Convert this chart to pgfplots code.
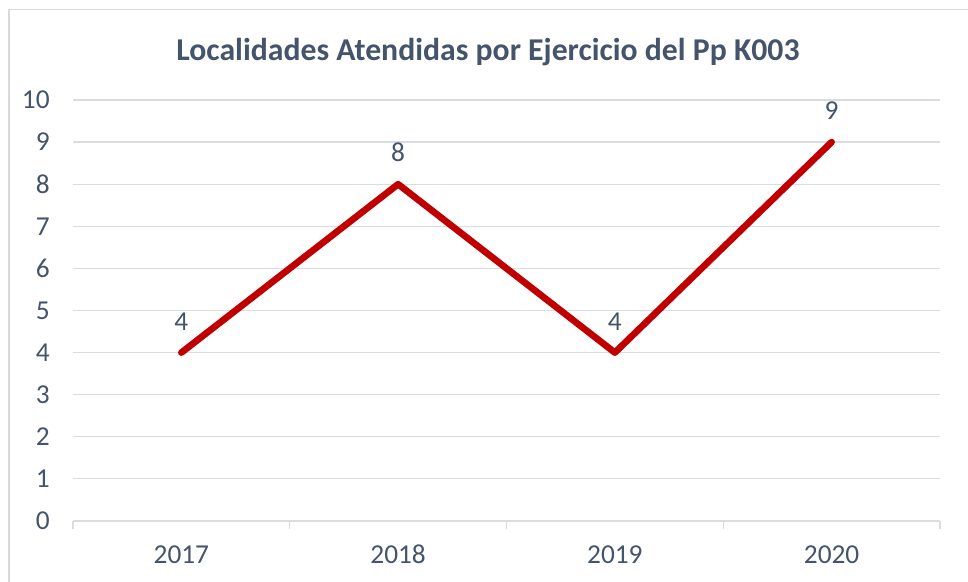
\documentclass[border=0pt]{standalone}
\usepackage{pgfplots}
\pgfplotsset{compat=1.18}
\usepackage{fontspec}
\setmainfont{Carlito}
\definecolor{cLine}{HTML}{C00000}
\definecolor{cText}{HTML}{44546A}
\definecolor{cGrid}{HTML}{D9DCE1}
\definecolor{cBorder}{HTML}{D9D9D9}
\begin{document}
\begin{tikzpicture}
% canvas 968x582 px at 0.75pt/px
\useasboundingbox (0pt,0pt) rectangle (726pt,436.5pt);
\draw[cBorder, line width=0.9pt] (6.8pt,-2pt) -- (6.8pt,429.5pt) -- (730pt,429.5pt);
\node[font=\fontsize{23.8}{27}\selectfont\bfseries, text=cText] at (366pt,397.5pt)
  {Localidades Atendidas por Ejercicio del Pp K003};
\begin{axis}[
  at={(54.75pt,45.75pt)}, anchor=south west,
  scale only axis, width=650.25pt, height=315.75pt,
  xmin=-0.5, xmax=3.5, ymin=0, ymax=10,
  xtick={0,1,2,3}, xticklabels={2017,2018,2019,2020},
  extra x ticks={-0.5,0.5,1.5,2.5,3.5}, extra x tick labels={},
  extra x tick style={major tick length=6pt, tick style={draw=cGrid, line width=0.9pt}, tick align=outside, grid=none},
  ytick={0,1,...,10},
  axis x line*=bottom, axis y line*=left,
  x axis line style={draw=cGrid, line width=0.9pt, -},
  y axis line style={draw=none},
  ymajorgrids, grid style={draw=cGrid, line width=0.9pt},
  major tick length=0pt,
  tick label style={font=\fontsize{20.5}{24}\selectfont, text=cText},
  /pgf/number format/assume math mode=true,
  yticklabel style={anchor=east, xshift=-14pt},
  xticklabel style={text height=13.5pt, text depth=0pt, yshift=-15pt},
  clip=false,
  nodes near coords,
  every node near coord/.append style={font=\fontsize{20.5}{24}\selectfont, text=cText, anchor=south, yshift=11pt},
]
\addplot[cLine, line width=5pt, line join=round, line cap=round, mark=none] coordinates {
  (0,4) (1,8) (2,4) (3,9)
};
\end{axis}
\end{tikzpicture}
\end{document}
